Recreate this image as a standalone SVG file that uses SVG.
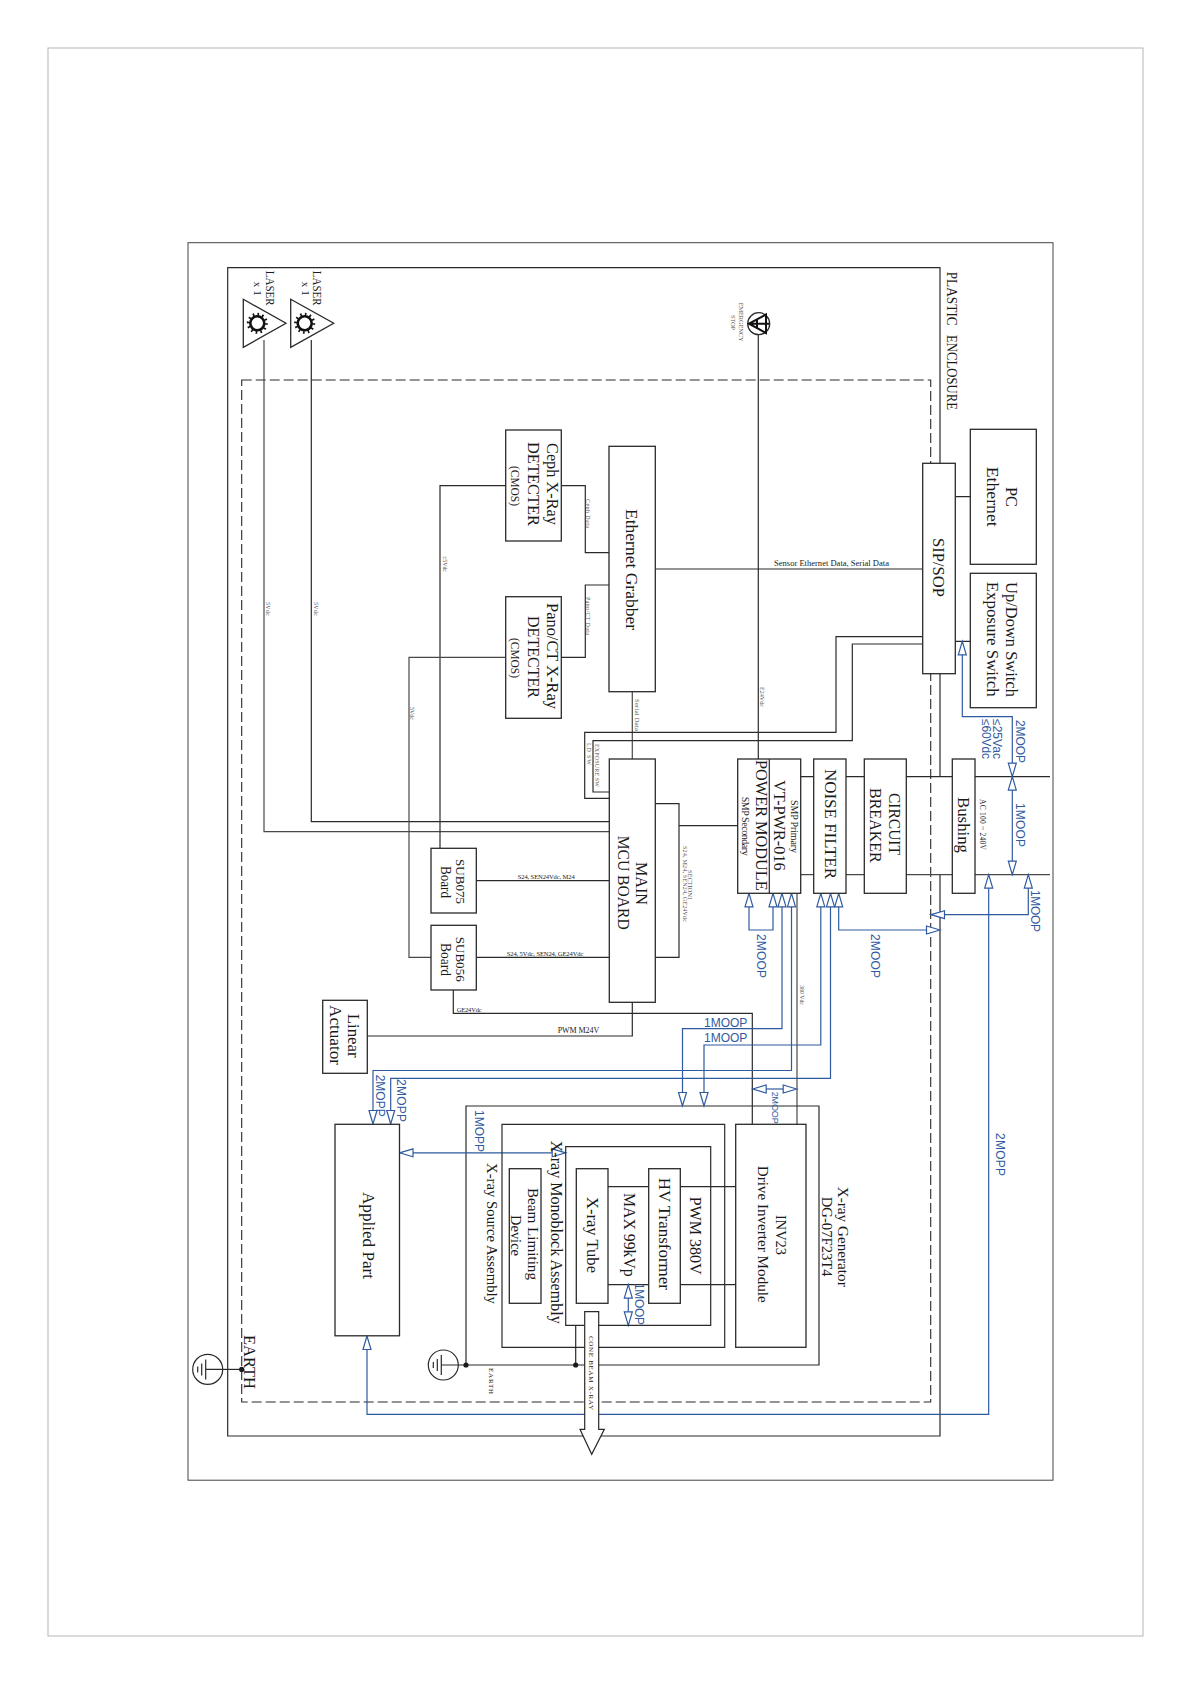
<svg xmlns="http://www.w3.org/2000/svg" width="1191" height="1684" viewBox="0 0 1191 1684">
<style>
.r{fill:#fff;stroke:#2a2a2a;stroke-width:1.3}
.n{fill:none;stroke:#2a2a2a;stroke-width:1.2}
.g{fill:none;stroke:#484848;stroke-width:1.2}
.b{fill:none;stroke:#2f5aa0;stroke-width:1.2}
.a{fill:#fff;stroke:#2f5aa0;stroke-width:1.2}
.d{fill:none;stroke:#2a2a2a;stroke-width:1.1;stroke-dasharray:10 4}
.t{font-family:"Liberation Serif",serif;fill:#1a1a1a}
.s{font-family:"Liberation Serif",serif;fill:#555}
.u{font-family:"Liberation Sans",sans-serif;fill:#2f5aa0}
</style>
<defs>
<path id="up" class="a" d="M0 0L-4 13.5H4Z"/>
<path id="dn" class="a" d="M0 0L-4 -13.5H4Z"/>
<path id="lf" class="a" d="M0 0L13.5 -4V4Z"/>
<path id="rt" class="a" d="M0 0L-13.5 -4V4Z"/>
<g id="gnd"><circle r="15" fill="#fff" stroke="#2a2a2a" stroke-width="1.2"/><path class="n" d="M-2 0H15M-2 -10V10M-6 -6V6M-10 -3V3"/></g>
<g id="sun"><circle r="7" fill="#fff" stroke="#111" stroke-width="2.6"/><circle r="9" fill="none" stroke="#111" stroke-width="3" stroke-dasharray="1.6 3.1"/></g>
</defs>
<rect width="1191" height="1684" fill="#fff"/>
<rect id="page" x="48" y="48" width="1095" height="1588" fill="none" stroke="#b5b5b5" stroke-width="1"/>
<rect id="frame" x="188" y="242.7" width="865" height="1237.5" fill="none" stroke="#444" stroke-width="1"/>
<g id="enclosure">
<path class="n" d="M940 776.7V267.7H227.7V1436H940V874.7" stroke-width="1.4"/>
<rect class="d" x="241.7" y="380" width="689" height="1022" />
<text class="t" font-size="14" transform="translate(947,271.7) rotate(90)" textLength="54" lengthAdjust="spacingAndGlyphs">PLASTIC</text>
<text class="t" font-size="14" transform="translate(947,335) rotate(90)" textLength="75" lengthAdjust="spacingAndGlyphs">ENCLOSURE</text>
</g>
<g id="connectors">
<path class="g" d="M264 340V831.7H609.3"/>
<path class="n" d="M311.3 340V821.7H609.3"/>
<path class="n" d="M561.3 485.7H585.3V552.7H609M561.3 657.3H585.3V585H609"/>
<path class="n" d="M505.7 485.7H440V848.3"/>
<path class="g" d="M505.7 657.3H409V957.3H431"/>
<path class="g" d="M632.3 691.7V759"/>
<path class="n" d="M655.3 569H922.7"/>
<path class="n" d="M955.3 496.7H970.3M955.3 641.3H970.3"/>
<path class="n" d="M758.3 335V759"/>
<path class="n" d="M922.7 636.7H836V732.3H584.7V798.3H609.3"/>
<path class="n" d="M922.7 644H852.3V740.7H593V792H609.3"/>
<path class="n" d="M476.3 880.7H609.3M476.3 957.3H609.3"/>
<path class="n" d="M655.3 803.7H679V957.3H655.3M679 825.7H737.7"/>
<path class="n" d="M453.3 990V1013.3H752.3V1124.3"/>
<path class="n" d="M367.3 1036H632.3V1002.3"/>
<path class="g" d="M797 893.3V1124.3"/>
<path class="n" d="M800.7 776.7H1050"/>
<path class="g" d="M800.7 874.7H1050"/>
<path class="n" d="M458 1365H819V1106H466V1365"/>
<path class="n" d="M608 1186.7H735.7M608 1284.7H735.7"/>
<path class="n" d="M575.7 1325V1365"/>
<circle cx="466" cy="1365" r="2.6" fill="#1a1a1a"/><circle cx="575.7" cy="1365" r="2.6" fill="#1a1a1a"/>
<path class="n" d="M222 1369.4H241.7"/><circle cx="241.7" cy="1369.4" r="2.6" fill="#1a1a1a"/>
<path class="b" d="M749 906.7V930H773V906.7"/>
<path class="b" d="M782 906.7V1028.7H682.5V1093"/>
<path class="b" d="M791.5 906.7V1070.5H373V1110"/>
<path class="b" d="M820.8 906.7V1045H704V1093"/>
<path class="b" d="M830.5 906.7V1078.3H390.7V1110"/>
<path class="b" d="M838.7 906.7V930H926"/>
<path class="b" d="M944 914.7H1028.3V888"/>
<path class="b" d="M988.7 888V1414.4H367V1349.5"/>
<path class="b" d="M962.3 654.5V716.7H1012.3V763"/>
<path class="b" d="M1012.3 790V861"/>
<path class="b" d="M766 1089H783.3"/>
<path class="b" d="M412.7 1152.8H552"/>
<path class="b" d="M628.3 1298V1311.7"/>
<use href="#up" x="962.3" y="641.3"/><use href="#dn" x="1012.3" y="776.7"/><use href="#up" x="1012.3" y="776.7"/><use href="#dn" x="1012.3" y="874.7"/>
<use href="#up" x="988.7" y="874.7"/><use href="#up" x="1028.3" y="874.7"/>
<use href="#up" x="749" y="893.3"/><use href="#up" x="773" y="893.3"/><use href="#up" x="782" y="893.3"/><use href="#up" x="791.5" y="893.3"/>
<use href="#up" x="820.8" y="893.3"/><use href="#up" x="830.5" y="893.3"/><use href="#up" x="838.7" y="893.3"/>
<use href="#rt" x="940" y="930"/><use href="#lf" x="931" y="914.7"/>
<use href="#dn" x="682.5" y="1106"/><use href="#dn" x="704" y="1106"/>
<use href="#lf" x="752.7" y="1089"/><use href="#rt" x="796.7" y="1089"/>
<use href="#dn" x="373" y="1124"/><use href="#dn" x="390.7" y="1124"/>
<use href="#lf" x="399.5" y="1152.8"/><use href="#rt" x="565.7" y="1152.8"/>
<use href="#up" x="367" y="1336"/>
<use href="#up" x="628.3" y="1284.7"/><use href="#dn" x="628.3" y="1325.3"/>
</g>
<g id="connector-labels">
<text class="s" font-size="6" transform="translate(266,602) rotate(90)" textLength="14">5Vdc</text>
<text class="s" font-size="6" transform="translate(313.5,602) rotate(90)" textLength="14">5Vdc</text>
<text class="s" font-size="6" transform="translate(442.5,556) rotate(90)" textLength="16">±5Vdc</text>
<text class="s" font-size="6" transform="translate(410,707) rotate(90)" textLength="13">5Vdc</text>
<text class="s" font-size="6" transform="translate(586,499) rotate(90)" textLength="29">Ceph Data</text>
<text class="s" font-size="6" transform="translate(586,597) rotate(90)" textLength="38">Pano/CT Data</text>
<text class="s" font-size="6.5" transform="translate(635,699) rotate(90)" textLength="32">Serial Data</text>
<text class="s" font-size="6" transform="translate(586.5,743) rotate(90)" textLength="22">LD SW</text>
<text class="s" font-size="6" transform="translate(594.5,744) rotate(90)" textLength="43">EXPOSURE SW</text>
<text class="s" font-size="6" transform="translate(760,687) rotate(90)" textLength="20">E24Vdc</text>
<text class="s" font-size="6" transform="translate(800,985) rotate(90)" textLength="20">380 Vdc</text>
<text class="s" font-size="6.5" transform="translate(688,870) rotate(90)" textLength="30">SECTION1</text>
<text class="s" font-size="6" transform="translate(682.5,846) rotate(90)" textLength="76">S24, M24, SEN24, GE24Vdc</text>
<text class="t" font-size="7.5" x="774" y="566" textLength="115" lengthAdjust="spacingAndGlyphs">Sensor Ethernet Data, Serial Data</text>
<text class="t" font-size="6.5" x="517.7" y="879" textLength="57">S24, SEN24Vdc, M24</text>
<text class="t" font-size="6.5" x="506.7" y="956" textLength="76.6">S24, 5Vdc, SEN24, GE24Vdc</text>
<text class="t" font-size="6.5" x="456.7" y="1012" textLength="25">GE24Vdc</text>
<text class="t" font-size="8" x="557.7" y="1033" textLength="41.5">PWM M24V</text>
<text class="t" font-size="7.5" transform="translate(980,799) rotate(90)" textLength="51">AC 100 ~ 240V</text>
<text class="t" font-size="7" transform="translate(489,1368) rotate(90)" textLength="26">EARTH</text>
<text class="u" font-size="12" x="704" y="1026.7" textLength="43.3">1MOOP</text>
<text class="u" font-size="12" x="704" y="1042.3" textLength="43.3">1MOOP</text>
<text class="u" font-size="12" transform="translate(757,934) rotate(90)" textLength="44">2MOOP</text>
<text class="u" font-size="12" transform="translate(870.5,934) rotate(90)" textLength="44">2MOOP</text>
<text class="u" font-size="12" transform="translate(1016,720) rotate(90)" textLength="43">2MOOP</text>
<text class="u" font-size="12" transform="translate(993,719) rotate(90)" textLength="40">≤25Vac</text>
<text class="u" font-size="12" transform="translate(982,719) rotate(90)" textLength="40">≤60Vdc</text>
<text class="u" font-size="12" transform="translate(1015.5,803) rotate(90)" textLength="44">1MOOP</text>
<text class="u" font-size="12" transform="translate(1030.7,890) rotate(90)" textLength="42">1MOOP</text>
<text class="u" font-size="12" transform="translate(995.5,1133) rotate(90)" textLength="43">2MOPP</text>
<text class="u" font-size="12" transform="translate(375.7,1074.7) rotate(90)" textLength="42">2MOPP</text>
<text class="u" font-size="12" transform="translate(397.3,1079) rotate(90)" textLength="43">2MOPP</text>
<text class="u" font-size="12" transform="translate(475,1110) rotate(90)" textLength="42">1MOPP</text>
<text class="u" font-size="12" transform="translate(635,1283) rotate(90)" textLength="42">1MOOP</text>
<text class="u" font-size="9" transform="translate(771.5,1091.7) rotate(90)" textLength="32">2MOOP</text>
</g>
<g id="laser1">
<path class="r" d="M243.3 299.3L286 323.3L243.3 347.3Z"/><use href="#sun" x="257.3" y="323.3"/>
<text class="t" font-size="13" transform="translate(266,270.7) rotate(90)" textLength="35" lengthAdjust="spacingAndGlyphs">LASER</text>
<text class="t" font-size="11" transform="translate(254,281.7) rotate(90)" textLength="14">x 1</text>
</g>
<g id="laser2">
<path class="r" d="M290.7 299.3L333.7 323.3L290.7 347.3Z"/><use href="#sun" x="304.7" y="323.3"/>
<text class="t" font-size="13" transform="translate(313.3,270.7) rotate(90)" textLength="35" lengthAdjust="spacingAndGlyphs">LASER</text>
<text class="t" font-size="11" transform="translate(301.7,281.7) rotate(90)" textLength="14">x 1</text>
</g>
<g id="emergency">
<circle class="r" cx="758.7" cy="323.7" r="11"/>
<path d="M749 323.7L766 314.5V333ZM749 323.7H769M757 319.5V328" fill="none" stroke="#111" stroke-width="2"/>
<text class="s" font-size="6.5" transform="translate(738.5,302.7) rotate(90)" textLength="39">EMERGENCY</text>
<text class="s" font-size="6.5" transform="translate(731,315) rotate(90)" textLength="15">STOP</text>
</g>
<g id="ceph">
<rect class="r" x="505.7" y="430" width="55.6" height="111"/>
<text class="t" font-size="17" transform="translate(547,443) rotate(90)" textLength="82" lengthAdjust="spacingAndGlyphs">Ceph X-Ray</text>
<text class="t" font-size="17" transform="translate(528,442) rotate(90)" textLength="84" lengthAdjust="spacingAndGlyphs">DETECTER</text>
<text class="t" font-size="13" transform="translate(511,466) rotate(90)" textLength="40" lengthAdjust="spacingAndGlyphs">(CMOS)</text>
</g>
<g id="pano">
<rect class="r" x="505.7" y="596.7" width="55.6" height="121.6"/>
<text class="t" font-size="17" transform="translate(547,603) rotate(90)" textLength="106" lengthAdjust="spacingAndGlyphs">Pano/CT X-Ray</text>
<text class="t" font-size="17" transform="translate(528,616) rotate(90)" textLength="82" lengthAdjust="spacingAndGlyphs">DETECTER</text>
<text class="t" font-size="13" transform="translate(511,638) rotate(90)" textLength="40" lengthAdjust="spacingAndGlyphs">(CMOS)</text>
</g>
<g id="grabber">
<rect class="r" x="609" y="446.3" width="46.3" height="245.4"/>
<text class="t" font-size="16" transform="translate(626,509) rotate(90)" textLength="121" lengthAdjust="spacingAndGlyphs">Ethernet Grabber</text>
</g>
<g id="sip">
<rect class="r" x="922.7" y="463.3" width="32.6" height="210.4"/>
<text class="t" font-size="17" transform="translate(933,538) rotate(90)" textLength="59" lengthAdjust="spacingAndGlyphs">SIP/SOP</text>
</g>
<g id="pc">
<rect class="r" x="970.3" y="429.3" width="66" height="135"/>
<text class="t" font-size="17" transform="translate(1006,487) rotate(90)" textLength="20" lengthAdjust="spacingAndGlyphs">PC</text>
<text class="t" font-size="17" transform="translate(987,466.7) rotate(90)" textLength="60" lengthAdjust="spacingAndGlyphs">Ethernet</text>
</g>
<g id="switch">
<rect class="r" x="970.3" y="573.3" width="66" height="134.4"/>
<text class="t" font-size="17" transform="translate(1006,582) rotate(90)" textLength="115" lengthAdjust="spacingAndGlyphs">Up/Down Switch</text>
<text class="t" font-size="17" transform="translate(987,581.7) rotate(90)" textLength="115" lengthAdjust="spacingAndGlyphs">Exposure Switch</text>
</g>
<g id="mcu">
<rect class="r" x="609.3" y="759" width="46" height="243.3"/>
<text class="t" font-size="17" transform="translate(636,862) rotate(90)" textLength="43" lengthAdjust="spacingAndGlyphs">MAIN</text>
<text class="t" font-size="17" transform="translate(617.5,835.7) rotate(90)" textLength="94" lengthAdjust="spacingAndGlyphs">MCU BOARD</text>
</g>
<g id="sub075">
<rect class="r" x="431" y="848.3" width="45.3" height="64.7"/>
<text class="t" font-size="13" transform="translate(456,859) rotate(90)" textLength="45" lengthAdjust="spacingAndGlyphs">SUB075</text>
<text class="t" font-size="14" transform="translate(441,866) rotate(90)" textLength="32" lengthAdjust="spacingAndGlyphs">Board</text>
</g>
<g id="sub056">
<rect class="r" x="431" y="925.3" width="45.3" height="64.7"/>
<text class="t" font-size="13" transform="translate(456,936.7) rotate(90)" textLength="45" lengthAdjust="spacingAndGlyphs">SUB056</text>
<text class="t" font-size="14" transform="translate(441,943) rotate(90)" textLength="33" lengthAdjust="spacingAndGlyphs">Board</text>
</g>
<g id="power">
<rect class="r" x="737.7" y="759" width="63" height="134.3"/>
<path class="n" d="M769.3 759V893.3"/>
<text class="t" font-size="16" transform="translate(756,760) rotate(90)" textLength="130.7" lengthAdjust="spacingAndGlyphs">POWER MODULE</text>
<text class="t" font-size="16" transform="translate(773.5,780) rotate(90)" textLength="90.7" lengthAdjust="spacingAndGlyphs">VT-PWR-016</text>
<text class="t" font-size="10" transform="translate(791,800) rotate(90)" textLength="53">SMP Primary</text>
<text class="t" font-size="10" transform="translate(742,796.7) rotate(90)" textLength="59">SMP Secondary</text>
</g>
<g id="filter">
<rect class="r" x="813.7" y="759" width="32.3" height="134.3"/>
<text class="t" font-size="16" transform="translate(825,769) rotate(90)" textLength="110" lengthAdjust="spacingAndGlyphs">NOISE FILTER</text>
</g>
<g id="breaker">
<rect class="r" x="864.3" y="759" width="42" height="134.3"/>
<text class="t" font-size="16" transform="translate(889,793) rotate(90)" textLength="62" lengthAdjust="spacingAndGlyphs">CIRCUIT</text>
<text class="t" font-size="16" transform="translate(870,788) rotate(90)" textLength="74.7" lengthAdjust="spacingAndGlyphs">BREAKER</text>
</g>
<g id="bushing">
<rect class="r" x="952.3" y="759" width="22.7" height="134.3"/>
<text class="t" font-size="16" transform="translate(958,797) rotate(90)" textLength="56" lengthAdjust="spacingAndGlyphs">Bushing</text>
</g>
<g id="actuator">
<rect class="r" x="322.7" y="1000.3" width="44.6" height="73"/>
<text class="t" font-size="16" transform="translate(348.3,1013.7) rotate(90)" textLength="44" lengthAdjust="spacingAndGlyphs">Linear</text>
<text class="t" font-size="16" transform="translate(330,1005) rotate(90)" textLength="60" lengthAdjust="spacingAndGlyphs">Actuator</text>
</g>
<g id="applied">
<rect class="r" x="335" y="1124.3" width="64.5" height="211.5"/>
<text class="t" font-size="17" transform="translate(362.7,1192) rotate(90)" textLength="87" lengthAdjust="spacingAndGlyphs">Applied Part</text>
</g>
<g id="generator">
<text class="t" font-size="15" transform="translate(838,1186.7) rotate(90)" textLength="100" lengthAdjust="spacingAndGlyphs">X-ray Generator</text>
<text class="t" font-size="15" transform="translate(822,1196.7) rotate(90)" textLength="80" lengthAdjust="spacingAndGlyphs">DG-07F23T4</text>
</g>
<g id="inverter">
<rect class="r" x="735.7" y="1124.3" width="70.3" height="223"/>
<text class="t" font-size="14" transform="translate(776,1215) rotate(90)" textLength="40" lengthAdjust="spacingAndGlyphs">INV23</text>
<text class="t" font-size="15" transform="translate(757.5,1165.7) rotate(90)" textLength="137" lengthAdjust="spacingAndGlyphs">Drive Inverter Module</text>
</g>
<g id="source">
<path class="n" d="M502 1124.3H724.7V1347.3H502Z" stroke-width="1.3"/>
<text class="t" font-size="15" transform="translate(487,1163) rotate(90)" textLength="141" lengthAdjust="spacingAndGlyphs">X-ray Source Assembly</text>
<rect class="r" x="509.3" y="1168.7" width="31.7" height="134.6"/>
<text class="t" font-size="15" transform="translate(528,1188) rotate(90)" textLength="92" lengthAdjust="spacingAndGlyphs">Beam Limiting</text>
<text class="t" font-size="15" transform="translate(511,1215) rotate(90)" textLength="41" lengthAdjust="spacingAndGlyphs">Device</text>
</g>
<g id="monoblock">
<path class="n" d="M565.7 1146.7H710.7V1325.3H565.7Z" stroke-width="1.3"/>
<text class="t" font-size="17" transform="translate(551,1140.7) rotate(90)" textLength="183" lengthAdjust="spacingAndGlyphs">X-ray Monoblock Assembly</text>
<text class="t" font-size="16" transform="translate(690,1196.7) rotate(90)" textLength="78" lengthAdjust="spacingAndGlyphs">PWM 380V</text>
<text class="t" font-size="16" transform="translate(623.5,1193) rotate(90)" textLength="83.7" lengthAdjust="spacingAndGlyphs">MAX 99kVp</text>
</g>
<g id="tube">
<rect class="r" x="576.3" y="1168.7" width="31.7" height="134.6"/>
<text class="t" font-size="16" transform="translate(587,1197) rotate(90)" textLength="76" lengthAdjust="spacingAndGlyphs">X-ray Tube</text>
</g>
<g id="transformer">
<rect class="r" x="648.7" y="1168.7" width="31.6" height="134.6"/>
<text class="t" font-size="16" transform="translate(658.5,1177.7) rotate(90)" textLength="112.3" lengthAdjust="spacingAndGlyphs">HV Transformer</text>
</g>
<g id="cone">
<path d="M584.7 1311.7H598.7V1429.3H604.3L591.7 1454.3L580 1429.3H584.7Z" fill="#fff" stroke="#2a2a2a" stroke-width="1.2"/>
<text class="t" font-size="7" transform="translate(589,1336) rotate(90)" textLength="74">CONE BEAM X-RAY</text>
</g>
<g id="ground1"><use href="#gnd" x="207.7" y="1369.4"/>
<text class="t" font-size="17" transform="translate(244,1335) rotate(90)" textLength="54" lengthAdjust="spacingAndGlyphs">EARTH</text>
</g>
<g id="ground2"><use href="#gnd" x="443.3" y="1365"/></g>
</svg>
